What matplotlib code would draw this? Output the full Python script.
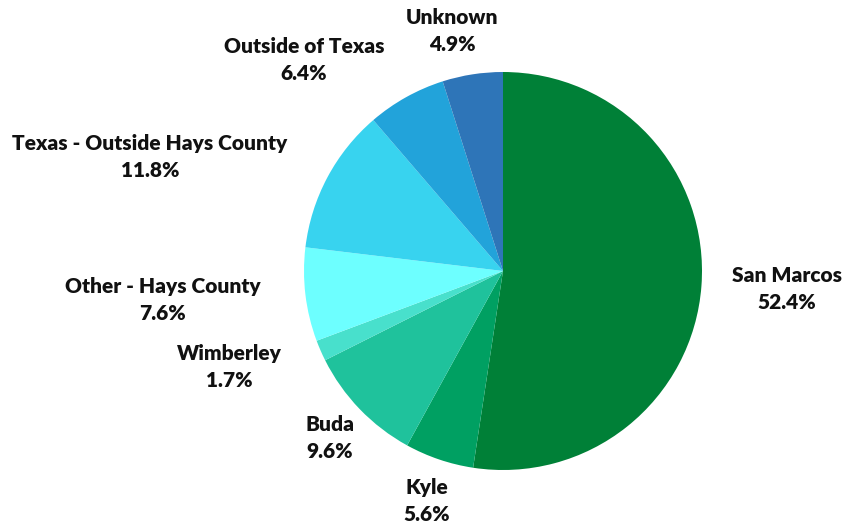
import matplotlib.pyplot as plt

labels = ["San Marcos", "Kyle", "Buda", "Wimberley", "Other - Hays County",
          "Texas - Outside Hays County", "Outside of Texas", "Unknown"]
values = [52.4, 5.6, 9.6, 1.7, 7.6, 11.8, 6.4, 4.9]
colors = ["#008037", "#00a062", "#1fc29c", "#48e0cc", "#6dffff",
          "#38d3ef", "#22a3da", "#2e75b8"]

# label centres in pixels (x, y from top)
label_pos = [(787, 289), (427, 501), (330, 438), (229, 367), (163, 300),
             (150, 157), (304, 60), (452, 31)]

fig = plt.figure(figsize=(8.61, 5.29), dpi=100)
ax = fig.add_axes([0, 0, 1, 1])

ax.pie(values, colors=colors, startangle=90, counterclock=False,
       center=(503, 529 - 271), radius=199, frame=True,
       wedgeprops=dict(linewidth=0))
ax.set_xlim(0, 861)
ax.set_ylim(0, 529)
ax.set_aspect("equal")
ax.axis("off")

for lab, v, (x, y) in zip(labels, values, label_pos):
    ax.text(x, 529 - y, f"{lab}\n{v}%", ha="center", va="center",
            fontsize=15, fontweight="heavy", family=["Lato", "DejaVu Sans"],
            linespacing=1.45, color="#111111")

fig.savefig("out.png", dpi=100)
